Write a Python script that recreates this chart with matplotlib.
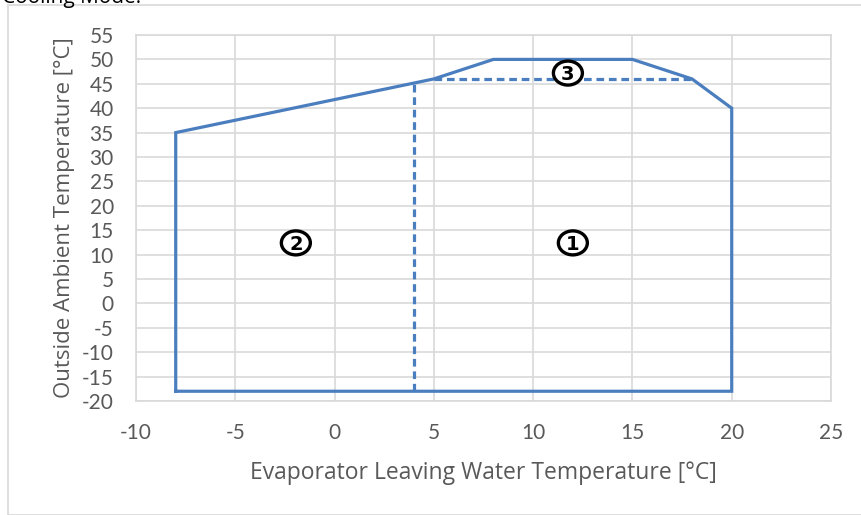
import matplotlib
matplotlib.use("Agg")
import matplotlib.pyplot as plt
from matplotlib.patches import Rectangle, Ellipse

plt.rcParams['font.family'] = ['Lato', 'DejaVu Sans']
plt.rcParams['axes.unicode_minus'] = False

# envelope (solid)
env_x = [-8, -8, 5, 8, 15, 18, 20, 20, -8]
env_y = [-18, 35, 46, 50, 50, 46, 40, -18, -18]
# dashed region separators
dv_x = [4, 4]
dv_y = [-18, 45]
dh_x = [5, 18]
dh_y = [46, 46]
# zone labels
zone_labels = ["1", "2", "3"]
zone_x = [12, -1.95, 11.75]
zone_y = [12.4, 12.4, 47.2]

xticks = list(range(-10, 26, 5))
yticks = list(range(-20, 56, 5))

fig = plt.figure(figsize=(8.61, 5.15), dpi=100)
ax = fig.add_axes([136/861, 1-401/515, 695/861, 366/515])

color = '#4a7ebf'
ax.plot(env_x, env_y, color=color, lw=2.3, solid_joinstyle='miter', zorder=3)
ax.plot(dv_x, dv_y, color=color, lw=2.3, ls=(0, (2.4, 1.5)), zorder=3)
ax.plot(dh_x, dh_y, color=color, lw=2.3, ls=(0, (2.4, 1.5)), zorder=3)

for lab, zx, zy in zip(zone_labels, zone_x, zone_y):
    ax.add_patch(Ellipse((zx, zy), 29/19.86, 24/4.88, facecolor='white',
                         edgecolor='black', lw=2.4, zorder=4))
    ax.text(zx, zy - 0.3, lab, ha='center', va='center', fontsize=14,
            fontweight='bold', family=['DejaVu Sans'], zorder=5)

ax.set_xlim(-10, 25)
ax.set_ylim(-20, 55)
ax.set_xticks(xticks)
ax.set_yticks(yticks)
ax.grid(True, color='#d9d9d9', lw=1.2)
ax.set_axisbelow(True)
for s in ax.spines.values():
    s.set_color('#d9d9d9')
    s.set_linewidth(1.2)
ax.tick_params(axis='x', length=0, labelsize=15, colors='#595959', pad=16)
ax.tick_params(axis='y', length=0, labelsize=15, colors='#595959', pad=16)
ax.set_xlabel("Evaporator Leaving Water Temperature [°C]", fontsize=16.5, color='#595959',
              labelpad=13, family=['Open Sans', 'DejaVu Sans'])
ax.set_ylabel("Outside Ambient Temperature [°C]", fontsize=16, color='#595959',
              labelpad=5, family=['Open Sans', 'DejaVu Sans'])

fig.patches.append(Rectangle((8/861, 0), 1, 1-5/515, transform=fig.transFigure,
                             fill=False, edgecolor='#d9d9d9', lw=1.2))
fig.text(2/861, 1-3/515, "Cooling Mode:", fontsize=15, color='black', va='baseline',
         family=['Open Sans', 'DejaVu Sans'])

fig.savefig("out.png", dpi=100)
